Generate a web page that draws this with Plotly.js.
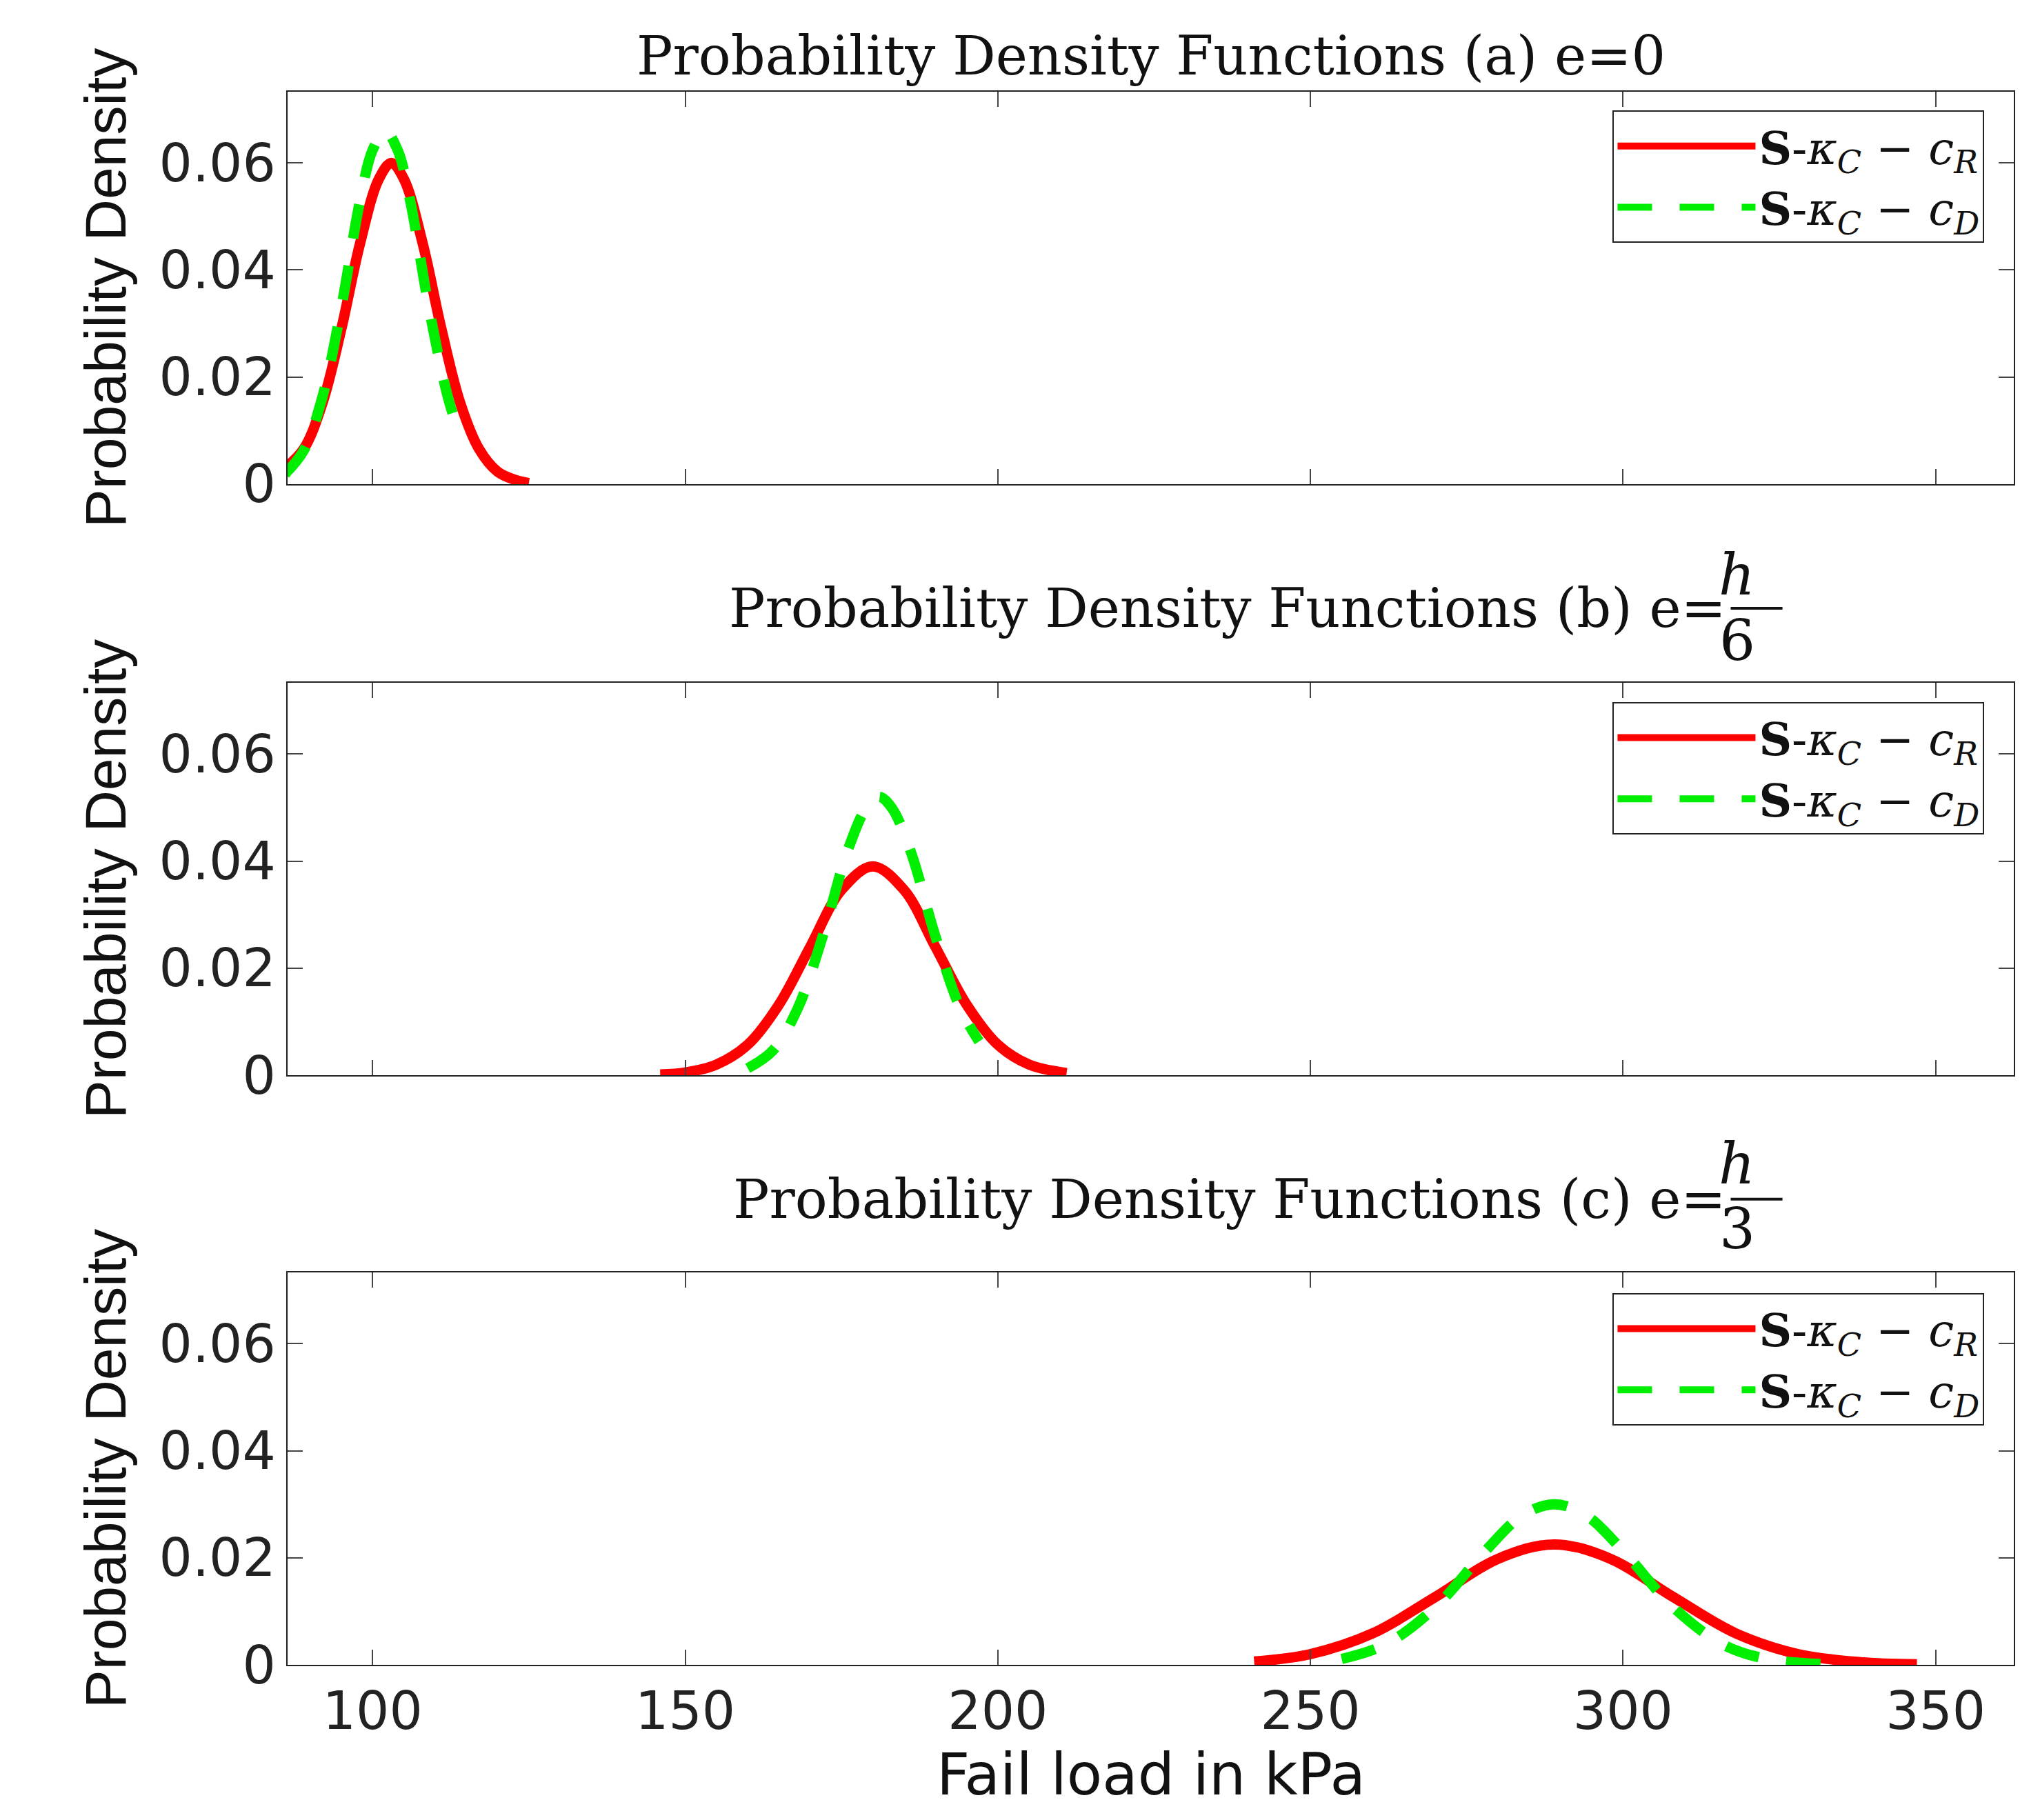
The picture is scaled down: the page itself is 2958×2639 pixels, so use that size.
<!DOCTYPE html>
<html><head><meta charset="utf-8">
<script src="https://cdn.plot.ly/plotly-3.0.1.min.js"></script>
<style>body{margin:0}</style></head>
<body><div id="plot" style="width:2958px;height:2639px"></div>
<script>
// values
var aRedX = [86, 89, 92, 95, 98, 101, 103, 105, 108, 111, 114, 117, 120, 123, 125];
var aRedY = [0.003, 0.0066, 0.0152, 0.029, 0.045, 0.057, 0.060, 0.057, 0.045, 0.029, 0.0152, 0.0066, 0.0023, 0.0007, 0.0002];
var aGrnX = [86, 89, 92, 95, 98, 100, 102, 104, 106, 109, 112, 114];
var aGrnY = [0.0019, 0.0063, 0.0164, 0.033, 0.053, 0.0624, 0.066, 0.0624, 0.053, 0.033, 0.0164, 0.0089];

var bRedX = [146, 150, 155, 160, 165, 170, 175, 180, 185, 190, 195, 200, 205, 211];
var bRedY = [0.00015, 0.0005, 0.002, 0.0057, 0.0132, 0.024, 0.0346, 0.039, 0.0346, 0.024, 0.0132, 0.0057, 0.002, 0.0004];
var bGrnX = [160, 164, 168, 172, 176, 179, 181, 183, 186, 190, 194, 197];
var bGrnY = [0.0013, 0.0046, 0.0125, 0.026, 0.042, 0.050, 0.052, 0.050, 0.042, 0.026, 0.0125, 0.0063];

var cRedX = [241, 250, 260, 270, 280, 289, 298, 308, 318, 328, 338, 347];
var cRedY = [0.0006, 0.002, 0.0059, 0.0127, 0.0198, 0.0225, 0.0198, 0.0127, 0.0059, 0.002, 0.0005, 0.0001];
var cGrnX = [255, 262, 270, 278, 284, 289, 294, 300, 308, 316, 323, 333];
var cGrnY = [0.0011, 0.0038, 0.0108, 0.0213, 0.028, 0.030, 0.028, 0.0213, 0.0108, 0.0038, 0.0011, 0.0001];

var xTicks = [100, 150, 200, 250, 300, 350];
var yTicks = [0, 0.02, 0.04, 0.06];
var nameR = "<b>S</b>-<i>κ<sub>C</sub></i> − <i>c<sub>R</sub></i>";
var nameD = "<b>S</b>-<i>κ<sub>C</sub></i> − <i>c<sub>D</sub></i>";

function red(x, y, ax, lg) {
    return {x: x, y: y, xaxis: "x" + ax, yaxis: "y" + ax, legend: lg, name: nameR, mode: "lines",
        line: {color: "#ff0000", width: 15, shape: "spline"}};
}
function grn(x, y, ax, lg) {
    return {x: x, y: y, xaxis: "x" + ax, yaxis: "y" + ax, legend: lg, name: nameD, mode: "lines",
        line: {color: "#00ee00", width: 15, shape: "spline", dash: "50px,40px"}};
}
var traces = [
    red(aRedX, aRedY, "", "legend"), grn(aGrnX, aGrnY, "", "legend"),
    red(bRedX, bRedY, "2", "legend2"), grn(bGrnX, bGrnY, "2", "legend2"),
    red(cRedX, cRedY, "3", "legend3"), grn(cGrnX, cGrnY, "3", "legend3")
];

var tickF = {family: "DejaVu Sans", size: 76, color: "#222"};
function xax(show, anchor) {
    return {range: [86.4, 362.5], tickvals: xTicks, showticklabels: show, ticks: "inside", ticklen: 22,
        tickwidth: 2, mirror: "ticks", showline: true, linecolor: "#222", linewidth: 2, showgrid: false,
        zeroline: false, tickfont: tickF, anchor: anchor};
}
function yax(dom, anchor) {
    return {range: [0, 0.0733], domain: dom, tickvals: yTicks, ticktext: ["0", "0.02", "0.04", "0.06"],
        ticks: "inside", ticklen: 22, tickwidth: 2, mirror: "ticks", showline: true, linecolor: "#222",
        linewidth: 2, showgrid: false, zeroline: false, tickfont: tickF, anchor: anchor,
        title: {text: "Probability Density", standoff: 20,
            font: {family: "Liberation Sans Narrow, Liberation Sans", size: 84, color: "#111"}}};
}
function leg(y) {
    return {x: 0.983, y: y, xanchor: "right", yanchor: "top", bgcolor: "white", bordercolor: "#222",
        borderwidth: 2, font: {family: "DejaVu Serif", size: 66, color: "#111"}, itemwidth: 200,
        tracegroupgap: 10};
}
var titleF = {family: "DejaVu Serif", size: 78, color: "#111"};
var fracF = {family: "DejaVu Serif", size: 82, color: "#111"};
var layout = {
    width: 2958, height: 2639, showlegend: true,
    margin: {l: 417, r: 38, t: 133, b: 225},
    paper_bgcolor: "white", plot_bgcolor: "white",
    xaxis: xax(false, "y"), yaxis: yax([0.7506, 1], "x"),
    xaxis2: xax(false, "y2"), yaxis2: yax([0.3748, 0.6243], "x2"),
    xaxis3: xax(true, "y3"), yaxis3: yax([0, 0.2494], "x3"),
    legend: leg(0.988), legend2: leg(0.612), legend3: leg(0.2363),
    annotations: [
        {xref: "paper", yref: "paper", x: 0.5, y: 1.023, yanchor: "middle", showarrow: false,
            text: "Probability Density Functions (a) e=0", font: titleF},
        {xref: "paper", yref: "paper", x: 0.834, y: 0.6716, xanchor: "right", yanchor: "middle", showarrow: false,
            text: "Probability Density Functions (b) e=", font: titleF},
        {xref: "paper", yref: "paper", x: 0.851, y: 0.6927, yanchor: "middle", showarrow: false,
            text: "<i>h</i>", font: fracF},
        {xref: "paper", yref: "paper", x: 0.851, y: 0.651, yanchor: "middle", showarrow: false,
            text: "6", font: fracF},
        {xref: "paper", yref: "paper", x: 0.834, y: 0.296, xanchor: "right", yanchor: "middle", showarrow: false,
            text: "Probability Density Functions (c) e=", font: titleF},
        {xref: "paper", yref: "paper", x: 0.851, y: 0.3187, yanchor: "middle", showarrow: false,
            text: "<i>h</i>", font: fracF},
        {xref: "paper", yref: "paper", x: 0.851, y: 0.277, yanchor: "middle", showarrow: false,
            text: "3", font: fracF},
        {xref: "paper", yref: "paper", x: 0.5, y: -0.0697, yanchor: "middle", showarrow: false,
            text: "Fail load in kPa", font: {family: "DejaVu Sans", size: 84, color: "#111"}}
    ],
    shapes: [
        {type: "line", xref: "paper", yref: "paper", x0: 0.836, x1: 0.866, y0: 0.6716, y1: 0.6716, line: {color: "#111", width: 4}},
        {type: "line", xref: "paper", yref: "paper", x0: 0.836, x1: 0.866, y0: 0.296, y1: 0.296, line: {color: "#111", width: 4}}
    ]
};
Plotly.newPlot("plot", traces, layout, {displayModeBar: false});
</script></body></html>
